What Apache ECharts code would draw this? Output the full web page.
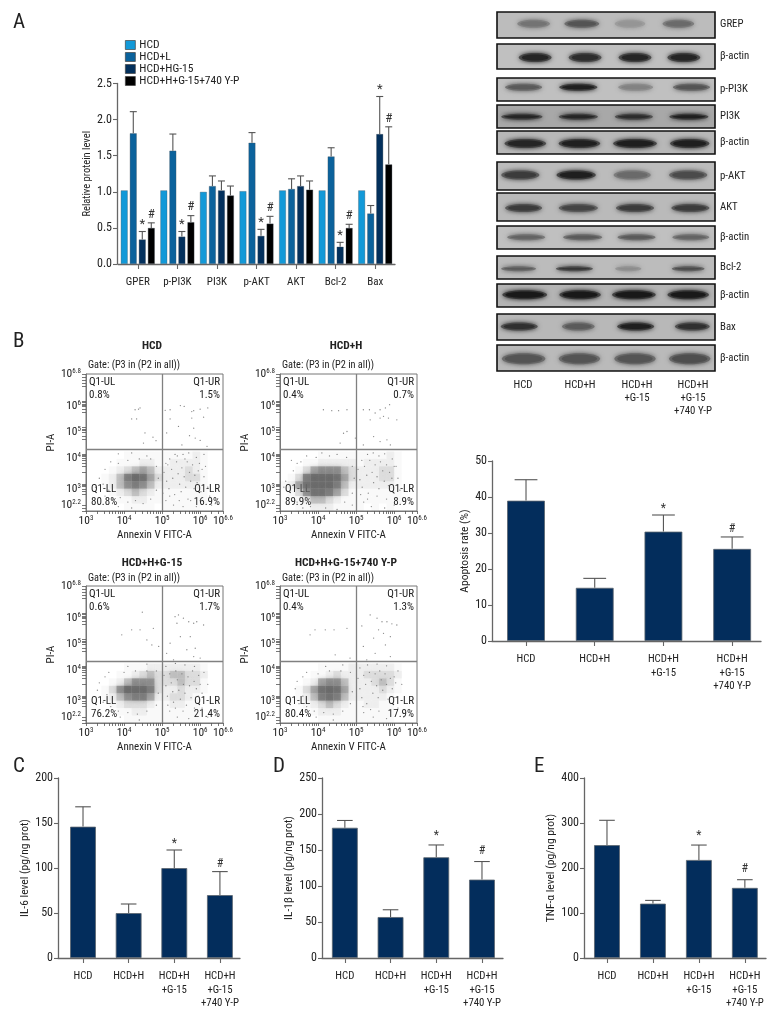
<!DOCTYPE html>
<html><head><meta charset="utf-8">
<style>html,body{margin:0;padding:0;background:#fff}#c{width:780px;height:1020px}</style>
<script src="https://cdn.jsdelivr.net/npm/echarts@6/dist/echarts.min.js"></script>
</head><body><div id="c"></div>
<script>
// ---------- data ----------
const proteinCats = ['GPER','p-PI3K','PI3K','p-AKT','AKT','Bcl-2','Bax'];
const proteinGroups = ['HCD','HCD+L','HCD+HG-15','HCD+H+G-15+740 Y-P'];
const proteinHCD = [1.02,1.02,1.0,1.01,1.02,1.02,1.02];
const proteinL = [1.81,1.57,1.08,1.68,1.04,1.49,0.70];
const proteinHG = [0.34,0.38,1.02,0.39,1.08,0.24,1.80];
const proteinYP = [0.50,0.58,0.95,0.56,1.03,0.50,1.38];
const proteinLTop = [2.11,1.80,1.22,1.82,1.18,1.61,0.81];
const proteinHGTop = [0.45,0.45,1.15,0.48,1.22,0.30,2.32];
const proteinYPTop = [0.57,0.67,1.08,0.66,1.15,0.55,1.90];
const proteinHGMark = ['*','*','','*','','*','*'];
const proteinYPMark = ['#','#','','#','','#','#'];

const treatCats = ['HCD','HCD+H','HCD+H\n+G-15','HCD+H\n+G-15\n+740 Y-P'];
const treatMarks = ['','','*','#'];
const apoptosis = [39,14.8,30.4,25.6];
const apoptosisTop = [44.8,17.4,35,28.9];
const il6 = [146,50,100,70];
const il6Top = [168,60,120,96];
const il1b = [181,57,140,109];
const il1bTop = [191,67,157,134];
const tnfa = [251,121,218,156];
const tnfaTop = [306,128,251,174];

const blotNames = ['GREP','β-actin','p-PI3K','PI3K','β-actin','p-AKT','AKT','β-actin','Bcl-2','β-actin','Bax','β-actin'];
// estimated darkness of each band (0..1), one row per membrane, one value per lane
const blotDark = [
 [.42,.62,.2,.48],[.92,.88,.92,.92],[.58,.96,.32,.62],[.92,.92,.88,.96],
 [.92,.96,.96,.96],[.78,.96,.48,.68],[.78,.72,.78,.78],[.52,.58,.58,.52],
 [.58,.82,.26,.68],[1,1,1,1],[.86,.58,.96,.86],[.62,.62,.62,.66]];
// estimated band centre along the membrane (% of width)
const blotPos = [
 [16.8,38.9,61,83.2],[17.5,40.4,63.3,85.7],[12.2,37.3,63.6,89.2],[11.4,37.3,62.8,88],
 [13,37.8,63.3,88.4],[10.7,36.3,62,87.7],[12.2,37.3,63.3,88.7],[13.4,39.3,64,88.9],
 [9.9,35.5,60.2,87.7],[12.7,38.1,62.8,87.7],[10.2,37.3,63.6,89.6],[12.2,37.8,63.3,88.4]];
// estimated band length (% of width)
const blotLen = [
 [15,16,14,14.5],[15,15,15,15],[17,17.5,16,17],[19,18,17.5,18],
 [19,19,20,18],[17.5,18,17,17.5],[17,18,17.5,17.5],[17.5,18,17.5,17],
 [16,17,12,15],[20.5,19,20,19],[17,15,17,16],[20,19,19,19]];

const flowTitles = ['HCD','HCD+H','HCD+H+G-15','HCD+H+G-15+740 Y-P'];
const flowPct = [
 ['0.8%','1.5%','80.8%','16.9%'],['0.4%','0.7%','89.9%','8.9%'],
 ['0.6%','1.7%','76.2%','21.4%'],['0.4%','1.3%','80.4%','17.9%']];
const flowXTicks = [3,4,5,6,6.6];
const flowXMinor = [3,3.3,3.48,3.6,3.7,3.78,3.85,3.9,3.95,4,4.3,4.48,4.6,4.7,4.78,4.85,4.9,4.95,5,5.3,5.48,5.6,5.7,5.78,5.85,5.9,5.95,6,6.3,6.48,6.6];
const flowYTicks = [6.8,5.72,4.85,3.98,2.94,2.4];
const flowYLabels = ['6.8','6','5','4','3','2.2'];
const flowYMinor = [6.8,6.7,6.6,6.5,6.4,5.9,5.85,5.8,5.75,5.72,5.6,5.5,5.0,4.95,4.9,4.85,4.7,4.6,4.12,4.08,4.04,3.98,3.9,3.8,3.7,3.5,3.1,3.06,3.02,2.94,2.85,2.75,2.4,2.3,2.2];
const flowQuadX = [5.0,5.0,5.0,5.0];
const flowQuadY = [4.28,4.28,4.28,4.28];
// sparse events [Annexin V, PI]
const flowDots = [
 [[4.29,5.6],[4.38,5.62],[4.42,5.66],[4.2,5.29],[4.33,5.29],[4.55,4.82],[4.76,4.68],[4.84,4.56],[4.51,4.48],[5.08,5.58],[5.21,5.6],[5.48,5.74],[5.58,5.71],[5.78,5.54],[5.83,5.57],[6,5.62],[6.2,5.66],[5.21,5.29],[5.43,5.04],[5.78,5.32],[6.09,5.35],[5.83,4.98],[5.12,4.82],[5.72,4.73],[5.87,4.65],[6,4.57],[6.18,4.37],[5.52,4.42],
  [5.1,3.8],[5.2,3.95],[5.4,4.05],[5.55,4.1],[5.7,4.15],[5.9,4],[6.1,4.1],[5.95,3.55],[6.1,3.35],[6.2,3],[6.25,2.7],[5.1,2.55],[5.3,2.4],[5.55,2.35],[5.9,2.35],[6.3,2.4],[4.2,2.3],[3.85,2.35],[3.5,2.7],[3.35,3.3],[3.25,3],[4.6,4.05],[4.2,4.15],[3.85,4.12],[3.65,3.85],
  [5.05,3.5],[5.12,3.2],[5.18,2.95],[5.25,3.6],[5.28,3.3],[5.33,2.75],[5.38,3.85],[5.42,3.45],[5.46,3.1],[5.5,2.85],[5.52,3.65],[5.58,3.35],[5.62,3],[5.66,3.85],[5.68,2.6],[5.72,3.5],[5.75,3.2],[5.8,3.75],[5.84,2.95],[5.86,3.4],[5.92,3.15],[5.98,3.8],[6.02,2.85],[6.05,3.6],[6.14,3.7],[5.15,3.75],[5.34,4.1],[5.6,3.95],[5.02,2.8],[5.2,2.7],[5.45,2.55],[5.75,2.55],[6,2.55],
  [3.5,3.6],[3.45,3.1],[3.6,2.9],[3.7,2.6],[3.9,2.65],[4.1,2.5],[4.3,2.55],[4.5,2.45],[4.7,2.6],[4.85,2.9],[4.9,3.3],[4.85,3.7],[4.7,3.95],[4.4,3.95],[4.1,3.9],[3.85,3.8]],
 [[4.14,5.6],[4.36,5.57],[4.54,5.57],[4.76,5.6],[5.19,5.6],[5.35,5.6],[5.5,5.49],[5.63,5.6],[5.77,5.66],[5.88,5.77],[5.72,5.38],[5.85,5.32],[6.07,5.26],[5.37,5.26],[5.63,5.32],[4.67,4.81],[4.76,4.87],[4.98,4.65],[5.46,4.7],[5.63,4.53],[5.81,4.59],[5.19,4.42],[4.58,4.48],[5.9,4.42],
  [5.15,3.9],[5.3,4.1],[5.45,4.15],[5.6,4.05],[5.75,4.12],[5.95,3.95],[6.05,3.7],[6.1,3.3],[6.15,2.9],[6.3,2.5],[5.2,2.5],[5.4,2.35],[5.75,2.3],[6,2.4],[3.15,3.2],[3.1,3],[3.3,2.6],[3.6,2.3],[4.5,2.25],[4.9,2.4],[4.5,4.1],[4.1,4.15],[3.7,4.05],[3.45,3.8],
  [5.05,3.6],[5.1,3.25],[5.16,3],[5.22,3.7],[5.28,3.4],[5.32,2.8],[5.36,3.9],[5.42,3.5],[5.46,3.15],[5.5,3.75],[5.55,3.35],[5.6,2.95],[5.64,3.85],[5.7,3.55],[5.74,3.2],[5.8,3.75],[5.85,3.05],[5.88,3.5],[5.94,3.3],[6,3.7],[5.12,2.75],[5.3,2.6],[5.55,2.7],[5.8,2.6],[6,2.8],
  [3.35,3.55],[3.3,3.9],[3.55,3.85],[3.25,2.85],[3.45,2.5],[3.8,2.35],[4.2,2.3],[4.7,2.5],[4.9,2.8],[4.95,3.3],[4.9,3.7],[4.75,4],[4.3,4.05],[3.95,4]],
 [[4.48,5.92],[4.2,5.33],[3.94,5.16],[4.42,5.33],[4.6,4.99],[4.77,5.38],[4.73,4.82],[4.91,4.77],[5.34,5.77],[5.43,5.83],[5.56,5.72],[5.7,5.6],[5.83,5.55],[5.91,5.6],[6.09,5.49],[5.39,5.55],[5.74,5.1],[5.48,5.1],[5.21,4.88],[5.65,4.66],[5.87,4.71],[5.12,4.54],[5.83,4.43],[6,4.38],[5.3,4.32],
  [5.1,4.1],[5.35,4.2],[5.6,4.15],[5.85,4.1],[6.1,3.9],[6.2,3.5],[5.95,3.1],[6.05,2.7],[5.2,2.6],[5.4,2.4],[5.7,2.35],[6.2,2.4],[4.4,2.3],[3.9,2.4],[3.45,2.9],[3.3,3.3],[3.35,3.55],[3.6,3.9],[4.1,4.1],[4.6,4.18],
  [5.05,3.8],[5.1,3.45],[5.14,3.1],[5.2,3.85],[5.24,3.55],[5.28,3.25],[5.3,2.9],[5.36,3.95],[5.4,3.65],[5.44,3.3],[5.48,3],[5.52,3.85],[5.56,3.5],[5.6,3.2],[5.64,2.8],[5.68,3.75],[5.72,3.45],[5.76,3.05],[5.8,3.95],[5.84,3.6],[5.9,3.35],[5.96,3.8],[6,3.5],[6.05,3.2],[5.15,2.8],[5.35,2.7],[5.55,2.6],[5.85,2.7],
  [3.5,3.75],[3.55,3.15],[3.65,2.75],[3.85,2.6],[4.1,2.55],[4.35,2.5],[4.6,2.6],[4.85,2.8],[4.9,3.2],[4.85,3.95],[4.6,3.95],[4.3,3.95],[4,3.9]],
 [[3.92,5.33],[4.19,5.33],[4.42,5.33],[4.76,5.38],[3.79,5.16],[5.37,5.83],[5.55,5.72],[5.68,5.6],[5.81,5.6],[5.94,5.53],[6.07,5.49],[5.15,5.46],[5.59,5.33],[5.72,5.21],[5.9,5.1],[5.46,5.05],[5.19,4.77],[5.77,4.82],[5.5,4.54],[5.9,4.43],[4.45,4.49],[4.84,4.38],[5.28,4.32],
  [5.1,4.05],[5.3,4.15],[5.55,4.18],[5.8,4.12],[6.1,3.95],[6.2,3.5],[6,3.05],[6.1,2.7],[5.2,2.55],[5.45,2.4],[5.8,2.35],[6.25,2.4],[4.4,2.3],[3.95,2.4],[3.5,2.85],[3.4,3.35],[3.45,3.6],[3.7,3.9],[4.2,4.1],[4.65,4.15],
  [5.05,3.7],[5.1,3.35],[5.15,3.05],[5.2,3.8],[5.25,3.5],[5.28,2.85],[5.35,3.9],[5.4,3.6],[5.44,3.2],[5.5,3.85],[5.54,3.45],[5.58,3.05],[5.62,3.95],[5.66,3.65],[5.7,3.3],[5.76,3.85],[5.8,3.5],[5.84,3],[5.9,3.7],[5.95,3.35],[6,3.75],[6.04,3.55],[5.18,2.75],[5.38,2.65],[5.6,2.6],[5.9,2.65],
  [3.6,3.75],[3.6,3.1],[3.7,2.75],[3.9,2.6],[4.15,2.55],[4.4,2.5],[4.65,2.6],[4.85,2.85],[4.9,3.25],[4.85,3.9],[4.6,3.95],[4.3,3.95],[4,3.85]]];
// estimated event density of the crowded lower quadrants (0..9).
// first row = highest PI band; columns run along Annexin V in cells of flowCellX, rows of flowCellY
const flowCellX = 0.2, flowCellY = 0.25;
const flowDensity = [
 [[0,0,0,0,0,1,1,1,1,1,1,1,1,1,2,1,0,0],[0,0,0,0,1,1,1,2,2,1,1,2,2,2,2,1,0,0],[0,0,0,1,2,3,4,5,4,2,2,2,2,3,2,1,0,0],[0,0,1,2,4,7,9,8,5,3,2,2,2,3,3,1,0,0],[0,0,1,2,4,6,7,6,4,2,2,2,2,2,2,1,0,0],[0,0,0,1,2,3,4,3,2,1,1,1,1,1,1,1,0,0],[0,0,0,0,1,1,2,2,1,1,1,1,1,1,1,1,0,0],[0,0,0,0,0,1,1,1,1,0,1,1,1,1,1,0,0,0]],
 [[0,0,0,0,0,1,1,1,1,1,1,1,1,1,2,1,0,0],[0,0,0,1,1,2,2,2,2,2,1,2,2,2,2,1,0,0],[0,0,1,3,5,6,6,6,4,3,2,2,2,3,3,1,0,0],[0,1,3,7,9,9,9,8,5,3,2,2,2,3,3,1,0,0],[1,2,5,8,9,9,9,7,4,2,2,2,2,2,2,1,0,0],[0,1,3,6,8,8,7,5,3,1,1,1,1,1,1,1,0,0],[0,0,1,2,4,4,3,2,1,1,1,1,1,1,1,1,0,0],[0,0,1,1,2,2,2,1,1,1,1,0,1,0,1,0,0,0]],
 [[0,0,0,0,0,1,1,1,2,2,2,2,2,2,2,1,0,0],[0,0,0,0,1,1,2,3,4,3,3,4,4,3,3,2,0,0],[0,0,0,1,2,4,6,6,6,3,3,3,4,3,3,1,0,0],[0,0,1,3,6,9,9,9,7,3,2,2,3,2,2,1,0,0],[0,0,1,2,4,6,7,7,5,2,2,3,3,2,1,0,0,0],[0,0,0,1,2,3,3,3,2,1,1,2,2,1,1,0,0,0],[0,0,0,0,1,1,2,2,1,1,1,1,1,1,1,0,0,0],[0,0,0,0,0,1,1,1,1,1,1,1,1,1,1,0,0,0]],
 [[0,0,0,0,0,1,1,1,1,2,2,2,2,2,2,1,0,0],[0,0,0,0,1,1,2,3,2,2,2,3,3,3,3,2,0,0],[0,0,0,1,2,5,6,6,4,2,2,2,3,4,3,1,0,0],[0,0,1,3,5,8,9,8,5,2,2,2,2,3,2,1,0,0],[0,0,1,2,4,7,8,7,4,2,2,2,2,2,1,0,0,0],[0,0,0,1,2,3,4,3,2,1,1,2,2,1,1,0,0,0],[0,0,0,0,1,2,2,2,1,1,1,1,1,1,1,0,0,0],[0,0,0,0,0,1,1,1,1,1,1,1,1,1,1,0,0,0]]];

// ---------- layout and style ----------
const FONT = '"Roboto Condensed","Noto Sans Condensed","Open Sans Condensed","Liberation Sans Narrow","DejaVu Sans Condensed",sans-serif';
const TXT = '#222', AXIS = '#666';
const BAR = '#032d5c';
const groupColors = ['#1299d8','#0b629c','#03305c','#000000'];
const blotBoxes = [[12,26],[44,25],[78,23],[105,23],[131,23],[162,28],[193,28],[226,23],[256,23],[284,23],[314,26],[345,26]];
const blotLaneBg = ['#bcbcbc','#c0c0c0','#c0c0c0','#a8a8a8','#b8b8b8','#bcbcbc','#bababa','#c0c0c0','#bcbcbc','#b4b4b4','#b8b8b8','#bababa'];
const blotCy = [.45,.54,.4,.51,.54,.46,.54,.49,.55,.47,.48,.53];
const blotH = [8,9,7,6,9,9,8,6,5,9,8,11];
const flowBoxes = [[86,374,137,137],[280,374,137,137],[86,586,137,137],[280,586,137,137]];
const densityOpacity = [0,.04,.1,.2,.36,.5,.62,.74,.84,.92];

const grid=[],xAxis=[],yAxis=[],series=[],graphic=[];
function text(str,x,y,o={}){
  graphic.push({type:'text',x,y,silent:true,rotation:o.rot||0,style:{text:str,x:0,y:0,fill:o.color||TXT,
    font:(o.bold?'bold ':'')+(o.size||11)+'px '+FONT,align:o.align||'left',verticalAlign:'middle',lineHeight:o.lh||13.5}});
}
function addGrid(g,x,y){grid.push(g);xAxis.push(Object.assign({gridIndex:grid.length-1},x));yAxis.push(Object.assign({gridIndex:grid.length-1},y));return grid.length-1;}
const axisLine={show:true,onZero:false,lineStyle:{color:AXIS,width:1.3}};
const axisTick={show:true,length:4,lineStyle:{color:AXIS,width:1.1}};
const lab={color:TXT,fontFamily:FONT,fontSize:11.5};

function errSeries(i,xs,tops,bases,marks,offset,cap,mSize,mGap){
  series.push({type:'custom',xAxisIndex:i,yAxisIndex:i,silent:true,z:3,clip:false,
    data:xs.map((x,k)=>[x,tops[k],bases[k],k]),
    renderItem(p,api){
      const k=api.value(3),c0=api.coord([api.value(0),api.value(1)]),c1=api.coord([api.value(0),api.value(2)]);
      const x=c0[0]+offset,st={stroke:'#555',lineWidth:1.1},ch=[
        {type:'line',shape:{x1:x,y1:c0[1],x2:x,y2:c1[1]},style:st},
        {type:'line',shape:{x1:x-cap,y1:c0[1],x2:x+cap,y2:c0[1]},style:st}];
      if(marks[k]) ch.push({type:'text',style:{text:marks[k],x,y:c0[1]-(marks[k]==='*'?mGap-2:mGap),fill:'#333',font:mSize+'px '+FONT,align:'center',verticalAlign:'bottom'}});
      return {type:'group',children:ch};
    }});
}

// --- panel A
(function(){
  const i=addGrid({left:118,top:83.5,width:277,height:180.5},
    {type:'category',data:proteinCats,axisLine,axisTick:Object.assign({},axisTick,{length:5,alignWithLabel:true,interval:0}),axisLabel:Object.assign({},lab,{margin:13,fontSize:11,interval:0})},
    {type:'value',min:0,max:2.5,interval:0.5,offset:1,axisLine,axisTick,splitLine:{show:false},
     axisLabel:Object.assign({},lab,{margin:5,fontSize:12,formatter:v=>v.toFixed(1)}),
     name:'Relative protein level',nameLocation:'middle',nameGap:15,nameTextStyle:{color:TXT,fontFamily:FONT,fontSize:10.5}});
  [proteinHCD,proteinL,proteinHG,proteinYP].forEach((d,k)=>{
    series.push({type:'bar',name:proteinGroups[k],xAxisIndex:i,yAxisIndex:i,data:d,barWidth:7,barGap:'29%',z:2,
      itemStyle:{color:groupColors[k],borderColor:'rgba(70,80,90,.55)',borderWidth:.6}});
  });
  const idx=proteinCats.map((c,k)=>k);
  errSeries(i,idx,proteinLTop,proteinL,[],-4.5,3.5,13,2);
  errSeries(i,idx,proteinHGTop,proteinHG,proteinHGMark,4.5,3.5,13,2);
  errSeries(i,idx,proteinYPTop,proteinYP,proteinYPMark,13.5,3.5,13,2);
})();

// --- blots
blotNames.forEach((name,r)=>{
  const b=blotBoxes[r];
  const i=addGrid({left:497,top:b[0],width:218,height:b[1],show:true,backgroundColor:blotLaneBg[r],borderColor:'#111',borderWidth:1.6},
    {type:'value',min:0,max:100,show:false},{type:'value',min:0,max:1,inverse:true,show:false});
  series.push({type:'custom',xAxisIndex:i,yAxisIndex:i,silent:true,z:2,
    data:blotPos[r].map((p,k)=>[p,blotCy[r],blotLen[r][k],blotDark[r][k]]),
    renderItem(p,api){
      const c=api.coord([api.value(0),api.value(1)]),w=api.size([api.value(2),0])[0],h=blotH[r],d=api.value(3);
      const g=Math.round(180-155*d),col=`rgb(${g},${g},${g})`;
      const g2=Math.round(180-110*d),col2=`rgb(${g2},${g2},${g2})`;
      return {type:'group',children:[
        {type:'ellipse',shape:{cx:c[0],cy:c[1],rx:w/2,ry:h/2},style:{fill:col2,shadowBlur:5,shadowColor:col2}},
        {type:'ellipse',shape:{cx:c[0],cy:c[1],rx:w/2-3,ry:h/2-1.5},style:{fill:col,shadowBlur:4,shadowColor:col}}]};
    }});
  text(name,720,b[0]+(name==='GREP'?12:b[1]/2),{size:10.8});
});
treatCats.forEach((c,k)=>{
  const xs=[523,580,637,693];
  c.split('\n').forEach((l,j)=>text(l,xs[k],385+j*13.3,{align:'center',size:10.8}));
});

// --- flow plots
function sup(v){return '{b|10}{s|'+v+'}';}
const richTick={b:{fontFamily:FONT,fontSize:11.5,color:TXT},s:{fontFamily:FONT,fontSize:7,color:TXT,verticalAlign:'top',padding:[0,0,5,0]}};
flowTitles.forEach((t,n)=>{
  const b=flowBoxes[n];
  const i=addGrid({left:b[0],top:b[1],width:b[2],height:b[3],show:true,borderColor:'#777',borderWidth:1},
   {type:'value',min:3,max:6.6,splitLine:{show:false},axisLine:{show:true,onZero:false,lineStyle:{color:'#777'}},
    axisTick:{show:true,length:3,lineStyle:{color:'#555',width:.8},customValues:flowXMinor},
    axisLabel:{show:true,margin:4,customValues:flowXTicks,showMinLabel:true,showMaxLabel:true,formatter:v=>sup(v),rich:richTick,hideOverlap:false},
    name:'Annexin V FITC-A',nameLocation:'middle',nameGap:19,nameTextStyle:{color:TXT,fontFamily:FONT,fontSize:11}},
   {type:'value',min:2.2,max:6.8,splitLine:{show:false},axisLine:{show:true,onZero:false,lineStyle:{color:'#777'}},
    axisTick:{show:true,length:4,lineStyle:{color:'#555',width:.8},customValues:flowYMinor},
    axisLabel:{show:true,margin:5,customValues:flowYTicks,showMinLabel:true,showMaxLabel:true,hideOverlap:false,
      formatter:v=>sup(flowYLabels[flowYTicks.indexOf(v)]),rich:richTick},
    name:'PI-A',nameLocation:'middle',nameGap:18,nameTextStyle:{color:TXT,fontFamily:FONT,fontSize:11}});
  // density cells
  const cells=[];
  const D=flowDensity[n];
  D.forEach((row,rr)=>row.forEach((v,c)=>{ if(v>0) cells.push([3+c*flowCellX,2.2+(D.length-1-rr)*flowCellY,v]); }));
  series.push({type:'custom',xAxisIndex:i,yAxisIndex:i,silent:true,z:1,data:cells,
    renderItem(p,api){
      const a=api.coord([api.value(0),api.value(1)]),s=api.size([flowCellX,flowCellY]),v=api.value(2);
      const col=`rgba(105,105,105,${densityOpacity[v]})`;
      return {type:'rect',shape:{x:a[0],y:a[1]-s[1],width:s[0],height:s[1]},style:{fill:col,shadowBlur:4,shadowColor:col}};
    }});
  series.push({type:'scatter',xAxisIndex:i,yAxisIndex:i,silent:true,z:2,data:flowDots[n],symbolSize:1.3,itemStyle:{color:'#666'},
    markLine:{silent:true,symbol:'none',animation:false,label:{show:false},lineStyle:{color:'#808080',type:'solid',width:1.3},
      data:[{xAxis:flowQuadX[n]},{yAxis:flowQuadY[n]}]}});
  const L=b[0],T=b[1],R=b[0]+b[2]-3,Y=b[1]+b[3];
  text(t,b[0]+66,T-(n<2?28:23),{bold:true,align:'center',size:11.5});
  text('Gate: (P3 in (P2 in all))',L+2,T-(n<2?9:8),{size:10.3});
  const P=flowPct[n];
  text('Q1-UL',L+3,T+8,{size:11});text(P[0],L+3,T+21,{size:11});
  text('Q1-UR',R,T+8,{align:'right',size:11});text(P[1],R,T+21,{align:'right',size:11});
  text('Q1-LL',L+5,Y-22,{size:11});text(P[2],L+5,Y-9,{size:11});
  text('Q1-LR',R,Y-22,{align:'right',size:11});text(P[3],R,Y-9,{align:'right',size:11});
});

// --- single-series bar panels
function barPanel(g,xMin,xMax,yMax,yInt,vals,tops,name,bw,gap,mSize,mGap){
  const i=addGrid(g,
    {type:'value',min:xMin,max:xMax,splitLine:{show:false},axisLine,
     axisTick:Object.assign({},axisTick,{length:5,customValues:[0,1,2,3]}),
     axisLabel:Object.assign({},lab,{fontSize:10.8,margin:12,lineHeight:13.5,verticalAlign:'top',customValues:[0,1,2,3],hideOverlap:false,formatter:v=>treatCats[v]})},
    {type:'value',min:0,max:yMax,interval:yInt,splitLine:{show:false},axisLine,axisTick,
     axisLabel:Object.assign({},lab,{margin:5,fontSize:12}),
     name,nameLocation:'middle',nameGap:gap,nameTextStyle:{color:TXT,fontFamily:FONT,fontSize:11.5}});
  const xs=vals.map((v,k)=>k);
  series.push({type:'bar',xAxisIndex:i,yAxisIndex:i,data:vals.map((v,k)=>[k,v]),barWidth:bw,z:2,
    itemStyle:{color:BAR,borderColor:'rgba(90,100,110,.8)',borderWidth:1}});
  errSeries(i,xs,tops,vals,treatMarks,0,bw*.3,mSize,mGap);
}
barPanel({left:492,top:461,width:269,height:180},-.495,3.42,50,10,apoptosis,apoptosisTop,'Apoptosis rate (%)',38,21,12,2);
barPanel({left:58,top:778,width:182,height:180},-.548,3.44,200,50,il6,il6Top,'IL-6 level (pg/ng prot)',26,21,12,2);
barPanel({left:322,top:778,width:181,height:180},-.5,3.46,250,50,il1b,il1bTop,'IL-1β level (pg/ng prot)',26,26,12,5);
barPanel({left:584,top:778,width:182,height:180},-.5,3.46,400,100,tnfa,tnfaTop,'TNF-α level (pg/ng prot)',26,25,12,5);

// --- panel letters
[['A',13,23],['B',13,342],['C',13,767],['D',273,767],['E',534,767]].forEach(a=>text(a[0],a[1],a[2],{size:21}));

const chart=echarts.init(document.getElementById('c'),null,{width:780,height:1020,renderer:'canvas'});
chart.setOption({animation:false,backgroundColor:'#fff',textStyle:{fontFamily:FONT},grid,xAxis,yAxis,series,graphic,
  legend:{data:proteinGroups,orient:'vertical',left:125,top:39,itemWidth:10,itemHeight:9,itemGap:0,padding:0,icon:'rect',
    textStyle:{color:TXT,fontFamily:FONT,fontSize:11.5,padding:[0,0,0,-1]},selectedMode:false,
    itemStyle:{borderColor:'#444',borderWidth:.7}}});
</script></body></html>
